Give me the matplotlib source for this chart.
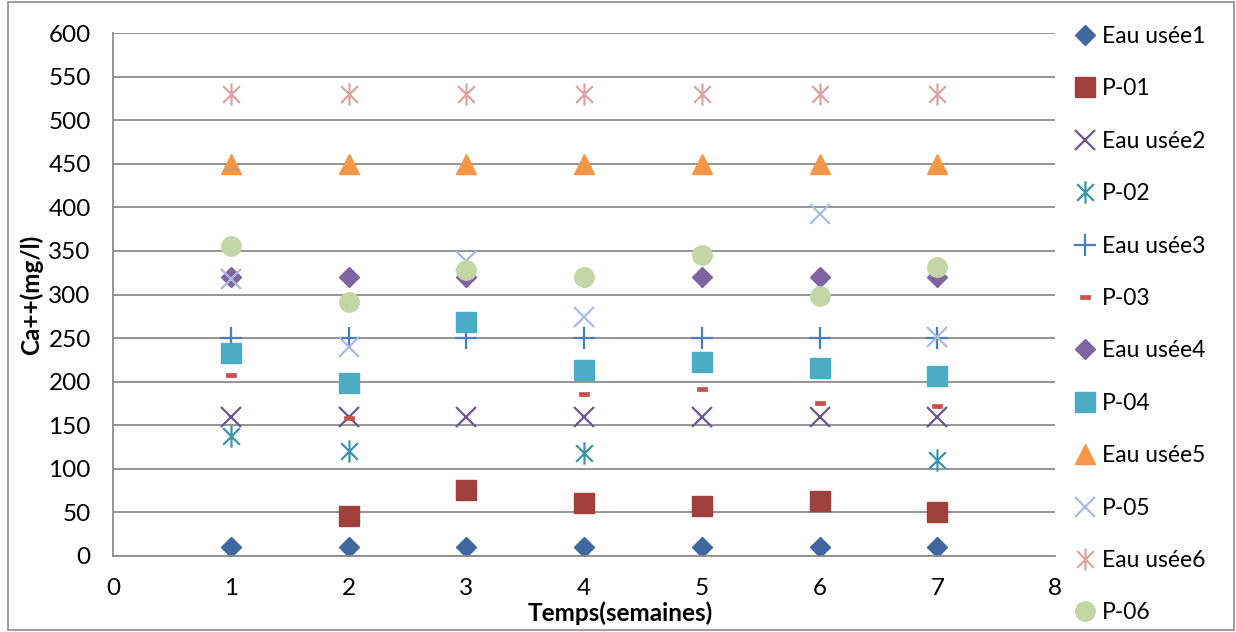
import matplotlib
matplotlib.use('Agg')
import matplotlib.pyplot as plt
from matplotlib.path import Path
from matplotlib.patches import Rectangle
import numpy as np

plt.rcParams['font.family'] = ['Lato', 'DejaVu Sans']

# données
semaines = [1, 2, 3, 4, 5, 6, 7]
eau_usee1 = [10, 10, 10, 10, 10, 10, 10]
p01 = [np.nan, 46, 76, 61, 57, 63, 50]
eau_usee2 = [160, 160, 160, 160, 160, 160, 160]
p02 = [138, 120, np.nan, 118, np.nan, np.nan, 110]
eau_usee3 = [250, 250, 250, 250, 250, 250, 250]
p03 = [208, 158, np.nan, 186, 192, 176, 172]
eau_usee4 = [320, 320, 320, 320, 320, 320, 320]
p04 = [233, 198, 268, 213, 223, 216, 206]
eau_usee5 = [450, 450, 450, 450, 450, 450, 450]
p05 = [318, 240, 338, 274, np.nan, 392, 251]
eau_usee6 = [530, 530, 530, 530, 530, 530, 530]
p06 = [356, 291, 328, 320, 345, 298, 331]

# marqueurs type excel
star = Path([(0, -1), (0, 1), (-0.75, -0.75), (0.75, 0.75), (-0.75, 0.75), (0.75, -0.75)],
            [Path.MOVETO, Path.LINETO, Path.MOVETO, Path.LINETO, Path.MOVETO, Path.LINETO])
dash = Path([(-1, -0.5), (1, -0.5), (1, 0.5), (-1, 0.5), (-1, -0.5)],
            [Path.MOVETO, Path.LINETO, Path.LINETO, Path.LINETO, Path.CLOSEPOLY])

series = [
    ('Eau usée1', eau_usee1, 'D', 10, '#3F67A0', 1),
    ('P-01', p01, 's', 14, '#A0403D', 1),
    ('Eau usée2', eau_usee2, 'x', 14, '#6E5590', 1.6),
    ('P-02', p02, star, 16, '#3A95A8', 1.6),
    ('Eau usée3', eau_usee3, '+', 16, '#4A7CC0', 1.6),
    ('P-03', p03, dash, 7, '#C9504C', 0.5),
    ('Eau usée4', eau_usee4, 'D', 10, '#8064A2', 1),
    ('P-04', p04, 's', 14, '#4BACC6', 1),
    ('Eau usée5', eau_usee5, '^', 15, '#F79646', 1),
    ('P-05', p05, 'x', 14, '#A8BCDD', 1.6),
    ('Eau usée6', eau_usee6, star, 16, '#DBA3A1', 1.6),
    ('P-06', p06, 'o', 14, '#C4D6A6', 1),
]

fig = plt.figure(figsize=(12.36, 6.32), dpi=100)
ax = fig.add_axes([113 / 1236, 76 / 632, 942 / 1236, 523 / 632])

for label, vals, mk, ms, col, lw in series:
    ax.plot(semaines, vals, linestyle='none', marker=mk, markersize=ms,
            color=col, markeredgecolor=col, markeredgewidth=lw, label=label)

ax.set_xlim(0, 8)
ax.set_ylim(0, 600)
ax.set_xticks(range(0, 9))
ax.set_yticks(range(0, 601, 50))
ax.tick_params(length=0, labelsize=17.5, pad=16)
ax.yaxis.grid(True, color='#8C8C8C', linewidth=1.3)
ax.set_axisbelow(True)
for s in ['top', 'right']:
    ax.spines[s].set_visible(False)
for s in ['left', 'bottom']:
    ax.spines[s].set_color('#8C8C8C')
    ax.spines[s].set_linewidth(1.3)

ax.set_xlabel('Temps(semaines)', fontsize=17.5, fontweight='bold', labelpad=0)
ax.xaxis.set_label_coords(0.539, -0.109)
ax.xaxis.label.set_verticalalignment('center')
ax.set_ylabel('Ca++(mg/l)', fontsize=17.5, fontweight='bold', labelpad=4)

ax.legend(loc='upper left', bbox_to_anchor=(1076 / 1236, 606 / 632),
          bbox_transform=fig.transFigure, frameon=False, numpoints=1,
          fontsize=16.5, handlelength=0.8, handletextpad=0.35,
          labelspacing=1.37, borderpad=0, borderaxespad=0)

# cadre du graphique
fig.patches.append(Rectangle((8 / 1236, 2 / 632), 1226 / 1236, 628 / 632,
                             transform=fig.transFigure, fill=False,
                             edgecolor='#8C8C8C', linewidth=1.2))

fig.savefig('out.png', dpi=100)
